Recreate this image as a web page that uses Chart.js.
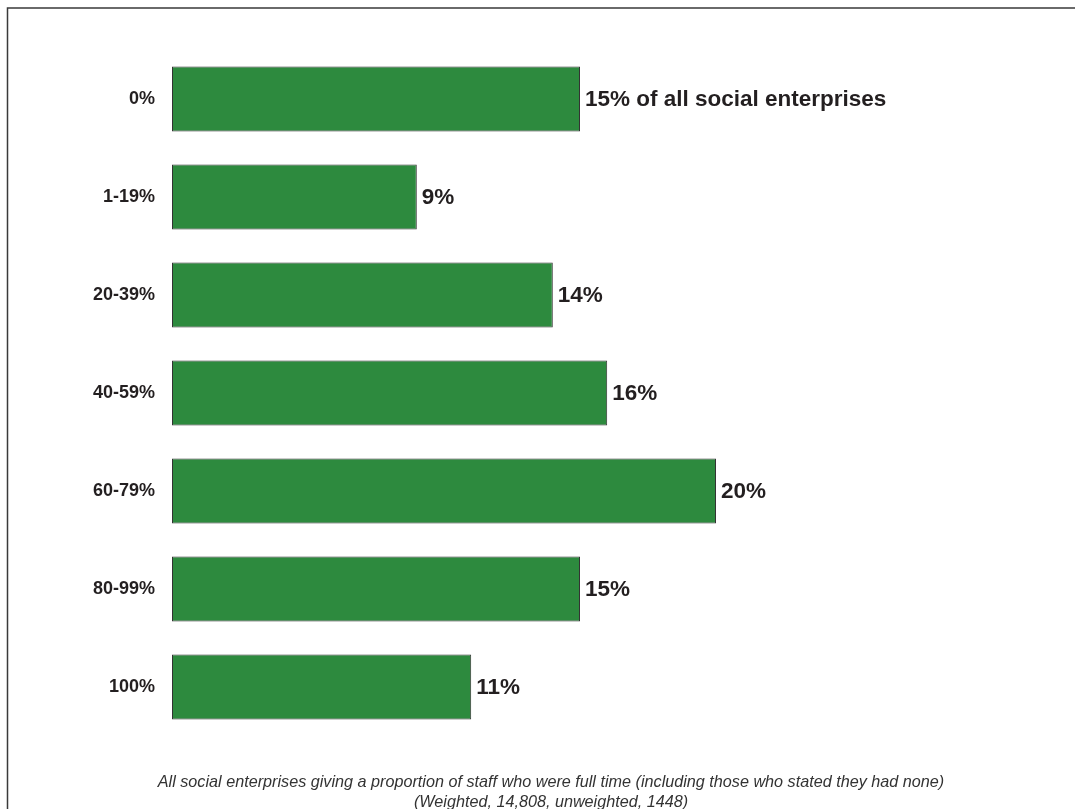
<!DOCTYPE html>
<html>
<head>
<meta charset="utf-8">
<script src="https://cdn.jsdelivr.net/npm/chart.js@4"></script>
<style>
  body { margin: 0; background: #fff; }
  canvas { display: block; }
</style>
</head>
<body>
<canvas id="staffChart" width="1075" height="809"></canvas>
<script>
// Share of full-time staff, by band
const categories = ['0%', '1-19%', '20-39%', '40-59%', '60-79%', '80-99%', '100%'];
const shares = [15, 9, 14, 16, 20, 15, 11];
const caption = [
    'All social enterprises giving a proportion of staff who were full time (including those who stated they had none)',
    '(Weighted, 14,808, unweighted, 1448)'
];

const barGreen = '#2d8a3e';
const fontFamily = '"Liberation Sans", Arial, sans-serif';

// outer frame, runs off the right and bottom edges
const framePlugin = {
    id: 'frame',
    beforeDraw(chart) {
        const ctx = chart.ctx;
        ctx.save();
        ctx.strokeStyle = '#3a3a3a';
        ctx.lineWidth = 1.5;
        ctx.strokeRect(7.5, 8, 2000, 2000);
        ctx.restore();
    }
};

// value text at the end of each bar
const valueLabels = {
    id: 'valueLabels',
    afterDatasetsDraw(chart) {
        const ctx = chart.ctx;
        const meta = chart.getDatasetMeta(0);
        ctx.save();
        ctx.font = 'bold 22.5px ' + fontFamily;
        ctx.fillStyle = '#231f20';
        ctx.textBaseline = 'middle';
        ctx.textAlign = 'left';
        meta.data.forEach((bar, i) => {
            let txt = shares[i] + '%';
            if (i === 0) txt += ' of all social enterprises';
            ctx.fillText(txt, bar.x + 5, bar.y + 1);
        });
        ctx.restore();
    }
};

// two-line italic note under the bars
const captionPlugin = {
    id: 'caption',
    afterDraw(chart) {
        const ctx = chart.ctx;
        ctx.save();
        ctx.font = 'italic 16.2px ' + fontFamily;
        ctx.fillStyle = '#333';
        ctx.textAlign = 'center';
        ctx.textBaseline = 'middle';
        caption.forEach((line, i) => ctx.fillText(line, 551, 782 + i * 20));
        ctx.restore();
    }
};

new Chart(document.getElementById('staffChart'), {
    type: 'bar',
    data: {
        labels: categories,
        datasets: [{
            data: shares,
            backgroundColor: barGreen,
            borderColor: '#333',
            borderWidth: 1,
            borderSkipped: false,
            barPercentage: 0.665,
            categoryPercentage: 1
        }]
    },
    options: {
        indexAxis: 'y',
        responsive: false,
        animation: false,
        layout: {
            padding: { top: 50, right: 87, left: 0, bottom: 73 }
        },
        plugins: {
            legend: { display: false },
            tooltip: { enabled: false }
        },
        scales: {
            x: {
                display: false,
                min: 0,
                max: 30
            },
            y: {
                afterFit(scale) { scale.width = 172; },
                grid: { display: false },
                border: { display: false },
                ticks: {
                    padding: 9,
                    color: '#231f20',
                    font: { family: fontFamily, size: 18, weight: 'bold' }
                }
            }
        }
    },
    plugins: [framePlugin, valueLabels, captionPlugin]
});
</script>
</body>
</html>
